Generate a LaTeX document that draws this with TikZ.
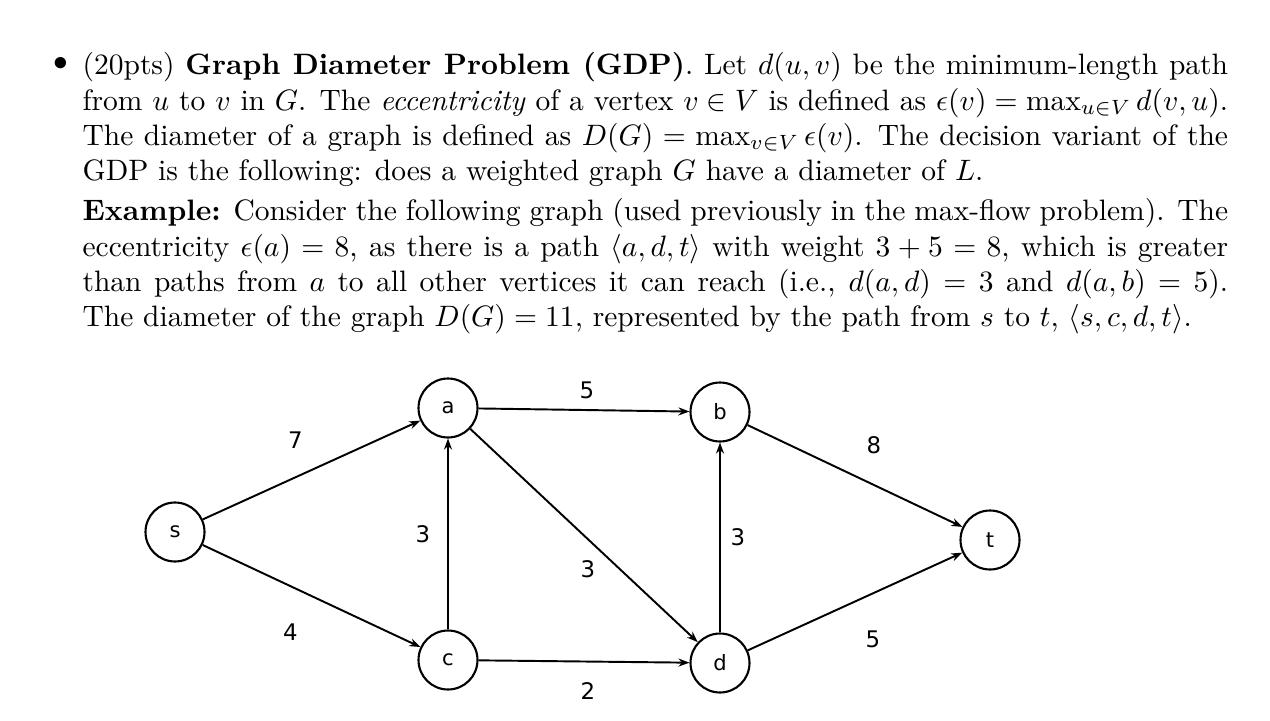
\documentclass[tikz,border=0pt]{standalone}
\usepackage{amsmath}
\usepackage{fontspec}
\newfontfamily\graphfont{DejaVu Sans}
\usetikzlibrary{arrows.meta}
\tikzstyle{vertex} = [circle, draw=black, line width=1.2pt, minimum size=1.18cm, inner sep=0pt, font=\graphfont\fontsize{12}{14}\selectfont]
\tikzstyle{arrow} = [line width=1.1pt,-{Stealth[length=0.22cm,width=0.16cm]}]
\tikzstyle{weight} = [font=\graphfont\fontsize{13}{15}\selectfont, inner sep=0pt]
\tikzstyle{prose} = [anchor=north west, inner sep=0pt, scale=1.68, transform shape, text width=13.64cm, align=justify, font=\fontsize{10}{12}\selectfont]

\begin{document}
\begin{tikzpicture}[x=0.02cm,y=-0.02cm]
    \useasboundingbox (0,0) rectangle (1270,720);
    % problem statement
    \node[prose, anchor=center, text width=] (bullet) at (61,64) {$\bullet$};
    \node[prose] (statement) at (82,52) {(20pts) \textbf{Graph Diameter Problem (GDP)}. Let $d(u,v)$ be the minimum-length path\linebreak
        from $u$ to $v$ in $G$. The \emph{eccentricity} of a vertex $v\in V$ is defined as $\epsilon(v)=\max_{u\in V}d(v,u)$.\linebreak
        The diameter of a graph is defined as $D(G)=\max_{v\in V}\epsilon(v)$. The decision variant of the\linebreak
        GDP is the following: does a weighted graph $G$ have a diameter of $L$.\par\vspace{0.05cm}
        \textbf{Example:} Consider the following graph (used previously in the max-flow problem). The\linebreak
        eccentricity $\epsilon(a)=8$, as there is a path $\langle a,d,t\rangle$ with weight $3+5=8$, which is greater\linebreak
        than paths from $a$ to all other vertices it can reach (i.e., $d(a,d)=3$ and $d(a,b)=5$).\linebreak
        The diameter of the graph $D(G)=11$, represented by the path from $s$ to $t$, $\langle s,c,d,t\rangle$.};
    % flow graph
    \node[vertex] (s) at (175,532) {s};
    \node[vertex] (a) at (448,408) {a};
    \node[vertex] (b) at (720,412) {b};
    \node[vertex] (c) at (448,660) {c};
    \node[vertex] (d) at (720,663) {d};
    \node[vertex] (t) at (990,540) {t};
    \draw[arrow] (s) -- node[weight, shift={(-16,-30)}] (wsa) {7} (a);
    \draw[arrow] (s) -- node[weight, shift={(-21,36)}] (wsc) {4} (c);
    \draw[arrow] (c) -- node[weight, shift={(-25,0)}] (wca) {3} (a);
    \draw[arrow] (a) -- node[weight, shift={(3,-20)}] (wab) {5} (b);
    \draw[arrow] (a) -- node[weight, shift={(4,34)}] (wad) {3} (d);
    \draw[arrow] (c) -- node[weight, shift={(4,30)}] (wcd) {2} (d);
    \draw[arrow] (d) -- node[weight, shift={(18,0)}] (wdb) {3} (b);
    \draw[arrow] (b) -- node[weight, shift={(19,-31)}] (wbt) {8} (t);
    \draw[arrow] (d) -- node[weight, shift={(18,38)}] (wdt) {5} (t);
\end{tikzpicture}
\end{document}
